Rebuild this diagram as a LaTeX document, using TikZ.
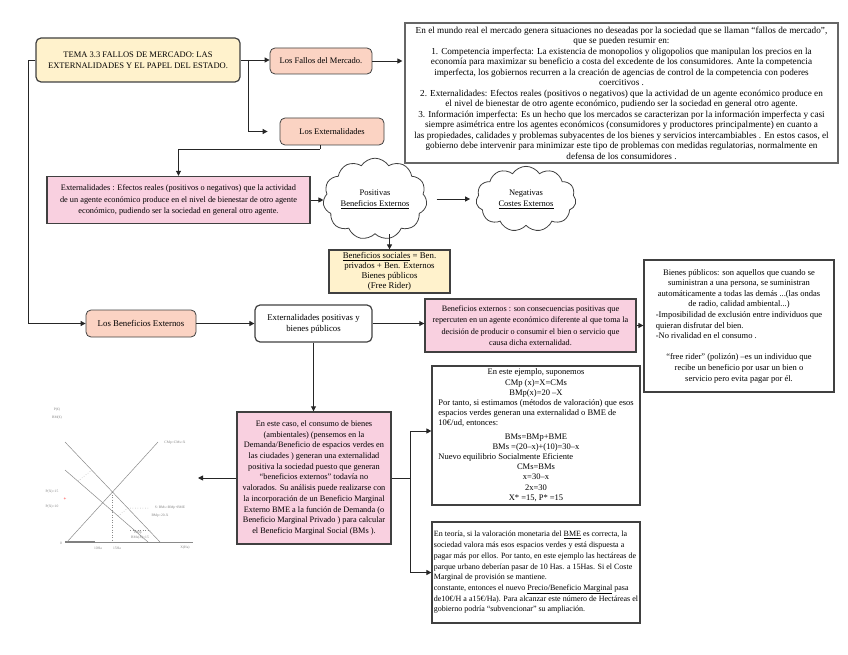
\documentclass[tikz,border=0pt]{standalone}
\usepackage{fontspec}
\setmainfont{Liberation Serif}
\usetikzlibrary{shapes.symbols,arrows.meta,calc}
\definecolor{bord}{HTML}{404040}
\definecolor{ylw}{HTML}{FFF2CC}
\definecolor{salmon}{HTML}{FBD3C3}
\definecolor{pinkf}{HTML}{F9D0E0}
\definecolor{gline}{HTML}{8A8A8A}
\begin{document}
\begin{tikzpicture}[x=1pt,y=-1pt,
  box/.style={draw=bord, line width=0.8pt, inner sep=2pt, align=center, text=black},
  rbox/.style={box, rounded corners=5pt},
  titlebox/.style={rbox, fill=ylw, line width=1.2pt},
  salbox/.style={rbox, fill=salmon},
  pinkbox/.style={box, fill=pinkf, line width=1.4pt},
  ylwbox/.style={box, fill=ylw, line width=1.2pt},
  textbox/.style={box, draw=gray!80!black, line width=1.6pt},
  plainbox/.style={box, line width=1.2pt},
  cloudn/.style={cloud, draw=bord, cloud puffs=11, cloud puff arc=115, aspect=1.4, line width=0.8pt, inner sep=0pt, align=center},
  arr/.style={draw=black!85, line width=0.9pt, -{Triangle[length=5pt,width=5pt]}},
  ln/.style={draw=black!85, line width=0.9pt},
  gl/.style={draw=gline, line width=0.5pt},
  gd/.style={draw=gline, line width=0.5pt, dotted},
  gt/.style={text=gray, font=\fontsize{3.6}{4}\selectfont, inner sep=0pt}
]
\useasboundingbox (0,0) rectangle (848,655);

% --- nodes ---
\node[titlebox, minimum width=204pt, minimum height=44pt, font=\fontsize{8.5}{11}\selectfont] (title) at (138,60)
  {TEMA 3.3 FALLOS DE MERCADO: LAS\\EXTERNALIDADES Y EL PAPEL DEL ESTADO.};
\node[salbox, minimum width=102pt, minimum height=26pt, font=\fontsize{8.5}{10}\selectfont] (fallos) at (321,61)
  {Los Fallos del Mercado.};
\node[textbox, minimum width=433pt, minimum height=140pt, inner sep=1pt, font=\fontsize{9.2}{10.5}\selectfont] (tr) at (621.5,93)
  {En el mundo real el mercado  genera situaciones no deseadas por la sociedad que se llaman “fallos de mercado”,\\
   que se pueden resumir en:\\
   1. Competencia imperfecta: La existencia de monopolios y oligopolios que manipulan los precios en la\\
   economía para maximizar su beneficio a costa del excedente de los consumidores. Ante la competencia\\
   imperfecta, los gobiernos recurren a la creación de agencias de control de la competencia con poderes\\
   coercitivos .\\
   2. Externalidades: Efectos reales (positivos o negativos) que la actividad de un agente económico produce en\\
   el nivel de bienestar de otro agente económico, pudiendo ser la sociedad en general otro agente.\\
   3. Información imperfecta: Es un hecho que los mercados se caracterizan por la información imperfecta y casi\\
   siempre asimétrica entre los agentes económicos (consumidores y productores principalmente) en cuanto a\\
   las propiedades, calidades y problemas subyacentes de los bienes y servicios intercambiables . En estos casos, el\\
   gobierno debe intervenir para minimizar este tipo de problemas con medidas regulatorias, normalmente en\\
   defensa de los consumidores .};
\node[salbox, minimum width=104pt, minimum height=27pt, font=\fontsize{8.5}{10}\selectfont] (extern) at (332,131.5)
  {Los Externalidades};
\node[pinkbox, minimum width=263pt, minimum height=47pt, font=\fontsize{8.3}{11.5}\selectfont] (pinkext) at (178.5,200)
  {Externalidades : Efectos reales (positivos o negativos) que la actividad\\
   de un agente económico produce en el nivel de bienestar de otro agente\\
   económico, pudiendo ser la sociedad en general otro agente.};
\node[cloudn, minimum width=92pt, minimum height=65pt, font=\fontsize{8.5}{11}\selectfont] (cloud1) at (375,199)
  {Positivas\\\underline{Beneficios Externos}};
\node[cloudn, minimum width=100pt, minimum height=65pt, font=\fontsize{8.5}{11}\selectfont] (cloud2) at (526,199)
  {Negativas\\\underline{Costes Externos}};
\node[ylwbox, minimum width=121pt, minimum height=43pt, font=\fontsize{8.8}{10}\selectfont] (ylwb) at (389.5,271.5)
  {\underline{Beneficios sociales} = Ben.\\privados + Ben. Externos\\Bienes públicos\\(Free Rider)};
\node[salbox, minimum width=110pt, minimum height=27pt, font=\fontsize{8.8}{10}\selectfont] (benext) at (141,323.5)
  {Los Beneficios Externos};
\node[rbox, line width=1.2pt, minimum width=117pt, minimum height=37pt, font=\fontsize{8.8}{11}\selectfont] (white) at (313.5,323.5)
  {Externalidades positivas y\\bienes públicos};
\node[pinkbox, minimum width=211pt, minimum height=53pt, font=\fontsize{8.2}{11.5}\selectfont] (pinkbe) at (530.5,325.5)
  {Beneficios externos : son consecuencias positivas que\\
   repercuten en un agente económico diferente al que toma la\\
   decisión de producir o consumir el bien o servicio que\\
   causa dicha externalidad.};
\node[plainbox, minimum width=190pt, minimum height=132pt, inner sep=1pt, font=\fontsize{8.5}{10.6}\selectfont] (bp) at (739,326)
  {\begin{tabular}{@{}l@{}}
   \multicolumn{1}{@{}c@{}}{Bienes públicos: son aquellos que cuando se}\\
   \multicolumn{1}{@{}c@{}}{suministran a una persona, se suministran}\\
   \multicolumn{1}{@{}c@{}}{automáticamente a todas las demás ...(las ondas}\\
   \multicolumn{1}{@{}c@{}}{de radio, calidad ambiental...)}\\
   -Imposibilidad de exclusión entre individuos que\\
   quieran disfrutar del bien.\\
   -No rivalidad en el consumo .\\[10.6pt]
   \multicolumn{1}{@{}c@{}}{“free rider” (polizón) –es un individuo que}\\
   \multicolumn{1}{@{}c@{}}{recibe un beneficio por usar un bien o}\\
   \multicolumn{1}{@{}c@{}}{servicio pero evita pagar por él.}
   \end{tabular}};
\node[pinkbox, minimum width=154pt, minimum height=132pt, font=\fontsize{8.3}{10.7}\selectfont] (pcase) at (314,478)
  {En este caso, el consumo de bienes\\
   (ambientales) (pensemos en la\\
   Demanda/Beneficio de espacios verdes en\\
   las ciudades ) generan una externalidad\\
   positiva la sociedad puesto que generan\\
   “beneficios externos” todavía no\\
   valorados. Su análisis puede realizarse con\\
   la incorporación de un Beneficio Marginal\\
   Externo BME a la función de Demanda (o\\
   Beneficio Marginal Privado ) para calcular\\
   el Beneficio Marginal Social (BMs ).};
\node[plainbox, minimum width=208pt, minimum height=139pt, inner sep=1pt, font=\fontsize{8.5}{10.1}\selectfont] (ej) at (536,435.5)
  {\begin{tabular}{@{}l@{}}
   \multicolumn{1}{@{}c@{}}{En este ejemplo, suponemos}\\
   \multicolumn{1}{@{}c@{}}{CMp (x)=X=CMs}\\
   \multicolumn{1}{@{}c@{}}{BMp(x)=20 –X}\\
   Por tanto, si estimamos (métodos de valoración) que esos\\
   espacios verdes  generan una externalidad o BME de\\
   10€/ud, entonces:\\[4pt]
   \multicolumn{1}{@{}c@{}}{BMs=BMp+BME}\\
   \multicolumn{1}{@{}c@{}}{BMs =(20–x)+(10)=30–x}\\
   Nuevo equilibrio Socialmente Eficiente\\
   \multicolumn{1}{@{}c@{}}{CMs=BMs}\\
   \multicolumn{1}{@{}c@{}}{x=30–x}\\
   \multicolumn{1}{@{}c@{}}{2x=30}\\
   \multicolumn{1}{@{}c@{}}{X* =15, P* =15}
   \end{tabular}};
\node[plainbox, minimum width=208pt, minimum height=101pt, inner sep=1pt, align=left, font=\fontsize{8}{10.7}\selectfont] (bot) at (536,572.5)
  {En teoría, si la valoración monetaria del \underline{BME} es correcta, la\\
   sociedad valora más esos espacios verdes y está dispuesta a\\
   pagar más por ellos. Por tanto, en este ejemplo  las hectáreas de\\
   parque urbano deberían pasar de 10 Has. a 15Has. Si el Coste\\
   Marginal de provisión se mantiene.\\
   constante, entonces el nuevo \underline{Precio/Beneficio Marginal} pasa\\
   de10€/H a a15€/Ha). Para alcanzar este número de Hectáreas el\\
   gobierno podría “subvencionar” su ampliación.};

% --- graph (left) ---
\coordinate (gtip) at (198,478);
\node[gt] (gP) at (57,410) {P(€)};
\node[gt] (gBM) at (57,418) {BM(€)};
\draw[gl] (65,542) -- (193,542);
\draw[draw=gray, line width=1.2pt] (65,542) -- (95,542);
\draw[gl] (65,442) -- (160,542);
\draw[gl] (65,470) -- (148,542);
\draw[gl] (67,542) -- (158,442);
\draw[gd] (78,481) -- (92,470);
\draw[gd] (118,516) -- (128,508) -- (148,508);
\draw[gd] (112,492) -- (112,542);
\draw[gd] (130,530) -- (150,530);
\node[gt] (gcm) at (175,443) {CMp=CMs=X};
\node[gt] (gp15) at (52,492) {P(X)=15};
\node[text=red, font=\fontsize{5}{5}\selectfont, inner sep=0pt] (gplus) at (65,499) {+};
\node[gt] (gp10) at (52,507) {P(X)=10};
\node[gt] (g0) at (61,543) {0};
\node[gt] (g10) at (98,548) {10Ha};
\node[gt] (g15) at (117,548) {15Ha};
\node[gt] (gx) at (185,548) {X(Ha)};
\node[gt] (gs) at (170,508) {S: BMs=BMp+BME};
\node[gt] (gbmp) at (160,516) {BMp=20-X};
\node[gt] (gbm1) at (138,533) {BMp};
\node[gt] (gbm2) at (140,538) {BMs(X)=15};

% --- connectors ---
\draw[arr] (title.east) -- (title.east -| fallos.west);
\draw[arr] (fallos.east) -- ++(30,0);
\coordinate (br) at (248,60);
\draw[arr, shorten >=12pt] (br) |- (extern.west);
\draw[arr] (title.west) -- ++(-7,0) |- (benext.west);
\draw[ln] ([xshift=-12pt]extern.south) -- ++(0,4) coordinate (eb);
\draw[arr] (eb) -| (pinkext.north);
\draw[arr] (pinkext.east) -- (pinkext.east -| cloud1.west);
\draw[arr, shorten <=10pt, shorten >=6pt] (cloud1.east) -- (cloud1.east -| cloud2.west);
\draw[arr] (ylwb.north |- cloud1.south) -- (ylwb.north);
\draw[arr] (benext.east) -- (white.west);
\draw[arr] (white.east) -- (white.east -| pinkbe.west);
\draw[arr] (pinkbe.east) -- (pinkbe.east -| bp.west);
\draw[arr] (white.south) -- (white.south |- pcase.north);
\draw[arr] (pcase.west) -- (gtip);
\draw[ln] (pcase.east) -- ++(19,0) coordinate (jn);
\draw[arr] (jn) |- ([yshift=4.5pt]ej.west);
\draw[arr] (jn) |- (bot.west);
\end{tikzpicture}
\end{document}
